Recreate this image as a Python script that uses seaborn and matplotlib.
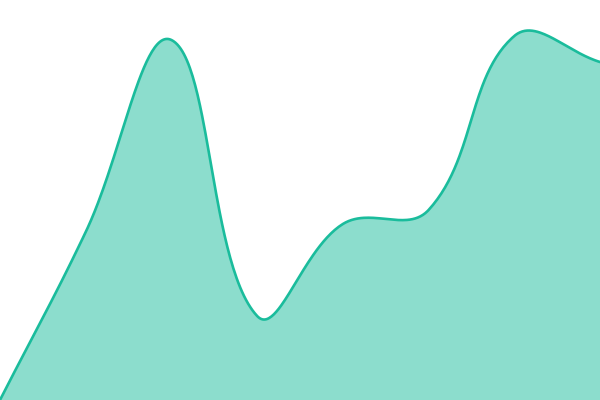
import numpy as np
import matplotlib
matplotlib.use("Agg")
import matplotlib.pyplot as plt
import seaborn as sns

sns.set_theme(style="white")

# data points (evenly spaced), values on a 0-100 scale
positions = [0, 1, 2, 3, 4, 5, 6, 7]
values = [0, 42, 90, 21, 44, 47.5, 91, 84.5]

line_color = "#1abc9c"
tension = 0.4

# smooth the line the way a tension spline does, in pixel space
sx, sy = 600 / 7, 400 / 100
px = np.array(positions, dtype=float) * sx
py = np.array(values, dtype=float) * sy
n = len(px)
cp_prev = np.zeros((n, 2))
cp_next = np.zeros((n, 2))
for i in range(n):
    prev = (px[max(i - 1, 0)], py[max(i - 1, 0)])
    cur = (px[i], py[i])
    nxt = (px[min(i + 1, n - 1)], py[min(i + 1, n - 1)])
    d01 = np.hypot(cur[0] - prev[0], cur[1] - prev[1])
    d12 = np.hypot(nxt[0] - cur[0], nxt[1] - cur[1])
    s01 = d01 / (d01 + d12) if d01 + d12 else 0
    s12 = d12 / (d01 + d12) if d01 + d12 else 0
    fa, fb = tension * s01, tension * s12
    cp_prev[i] = (cur[0] - fa * (nxt[0] - prev[0]), cur[1] - fa * (nxt[1] - prev[1]))
    cp_next[i] = (cur[0] + fb * (nxt[0] - prev[0]), cur[1] + fb * (nxt[1] - prev[1]))

xs, ys = [], []
t = np.linspace(0, 1, 60)
for i in range(n - 1):
    p0 = np.array([px[i], py[i]])
    p1 = cp_next[i]
    p2 = cp_prev[i + 1]
    p3 = np.array([px[i + 1], py[i + 1]])
    seg = ((1 - t) ** 3)[:, None] * p0 + (3 * (1 - t) ** 2 * t)[:, None] * p1 \
        + (3 * (1 - t) * t ** 2)[:, None] * p2 + (t ** 3)[:, None] * p3
    xs.extend(seg[:, 0] / sx)
    ys.extend(seg[:, 1] / sy)

fig = plt.figure(figsize=(6, 4), dpi=100)
ax = fig.add_axes([0, 0, 1, 1])
ax.fill_between(xs, ys, 0, color=line_color, alpha=0.5, linewidth=0)
sns.lineplot(x=xs, y=ys, ax=ax, color=line_color, linewidth=1.9, sort=False)
ax.set_xlim(0, 7)
ax.set_ylim(0, 100)
ax.axis("off")

plt.savefig("out.png", dpi=100)
